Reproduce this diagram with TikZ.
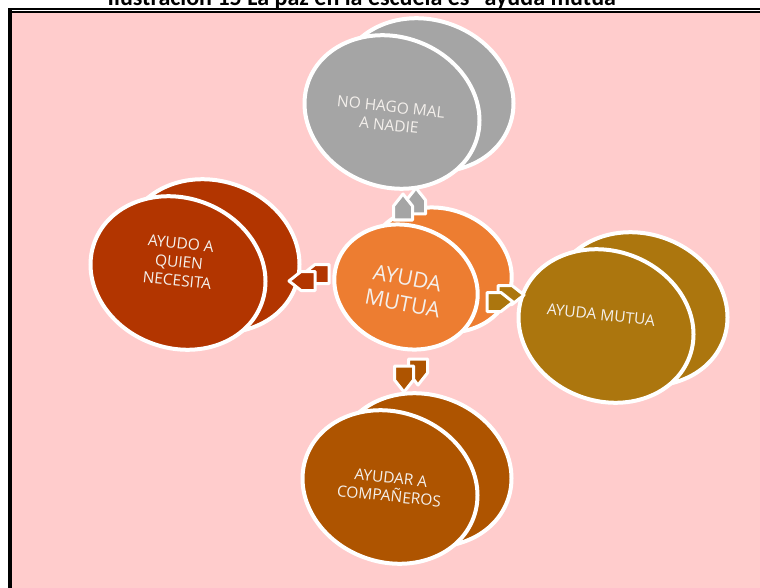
\documentclass[tikz,border=0pt]{standalone}
\usepackage{fontspec}
\setmainfont{Open Sans}
\newfontfamily\titlefont{Carlito}
\usetikzlibrary{shapes.geometric}
\definecolor{bgpink}{HTML}{FFCCCC}
\definecolor{cgray}{HTML}{A5A5A5}
\definecolor{corange}{HTML}{ED7D31}
\definecolor{cred}{HTML}{B23500}
\definecolor{cgold}{HTML}{AC760E}
\definecolor{cbrown}{HTML}{AE5400}
\definecolor{txt}{HTML}{F4F0EC}
\tikzset{
  disk/.style={ellipse, minimum width=178pt, minimum height=150pt, inner sep=0pt,
    draw=white, line width=4pt, rotate=-20},
  smalldisk/.style={disk, minimum width=146pt, minimum height=122pt},
  lbl/.style={text=txt, align=center, inner sep=0pt, rotate=-6,
    font=\fontsize{15.5}{18.5}\selectfont},
  biglbl/.style={lbl, rotate=-5, font=\fontsize{21.5}{26}\selectfont},
  blk/.pic={\path[pic actions] (-13,-9.5) -- (1,-9.5) -- (13,0) -- (1,9.5) -- (-13,9.5) -- cycle;},
  arr/.style={draw=white, line width=3pt, line join=round}
}
\begin{document}
\begin{tikzpicture}[x=1pt,y=-1pt]
\useasboundingbox (0,0) rectangle (760,588);
\fill[white] (0,0) rectangle (760,588);
% title (cut at the top)
\node[anchor=base, inner sep=0pt, font=\titlefont\bfseries\fontsize{24}{24}\selectfont] (title) at (367,5.5)
  {Ilustración 15 La paz en la escuela es “ayuda mutua”};
% frame
\fill[bgpink] (12,12.7) rectangle (760,588);
\fill[black] (7.5,8) rectangle (12,588);
\fill[black] (7.5,8) rectangle (760,10);
\fill[black] (7.5,11) rectangle (760,12.7);
% outer disks
\node[disk, fill=cgray] (gb) at (392+34,112-17) {};
\node[disk, fill=cgray] (g) at (392,112) {};
\node[disk, fill=cred] (rb) at (178+34,273-17) {};
\node[disk, fill=cred] (r) at (178,273) {};
\node[disk, fill=cgold] (yb) at (606+34,326-17) {};
\node[disk, fill=cgold] (y) at (606,326) {};
\node[disk, fill=cbrown] (bb) at (390+34,487-17) {};
\node[disk, fill=cbrown] (b) at (390,487) {};
% centre disk
\node[smalldisk, fill=corange] (cb) at (406+34,287-17) {};
\node[smalldisk, fill=corange] (c) at (406,287) {};
% labels
\node[lbl] (tg) at (390,116) {NO HAGO MAL\\A NADIE};
\node[lbl] (tr) at (179,262) {AYUDO A\\QUIEN\\NECESITA};
\node[lbl] (ty) at (601,315) {AYUDA MUTUA};
\node[lbl] (tb) at (390,487) {AYUDAR A\\COMPAÑEROS};
\node[biglbl] (tc) at (405,291) {AYUDA\\MUTUA};
% block arrows (back face, then front face)
\pic[arr, fill=cgray, rotate=90] at (403+13,207-6) {blk};
\pic[arr, fill=cgray, rotate=90] at (403,207) {blk};
\pic[arr, fill=cred, rotate=180] at (302+14,281-7) {blk};
\pic[arr, fill=cred, rotate=180] at (302,281) {blk};
\pic[arr, fill=cgold, rotate=0] at (500+11,302-7) {blk};
\pic[arr, fill=cgold, rotate=0] at (500,302) {blk};
\pic[arr, fill=cbrown, rotate=-90] at (404+14,379-7) {blk};
\pic[arr, fill=cbrown, rotate=-90] at (404,379) {blk};
\end{tikzpicture}
\end{document}
